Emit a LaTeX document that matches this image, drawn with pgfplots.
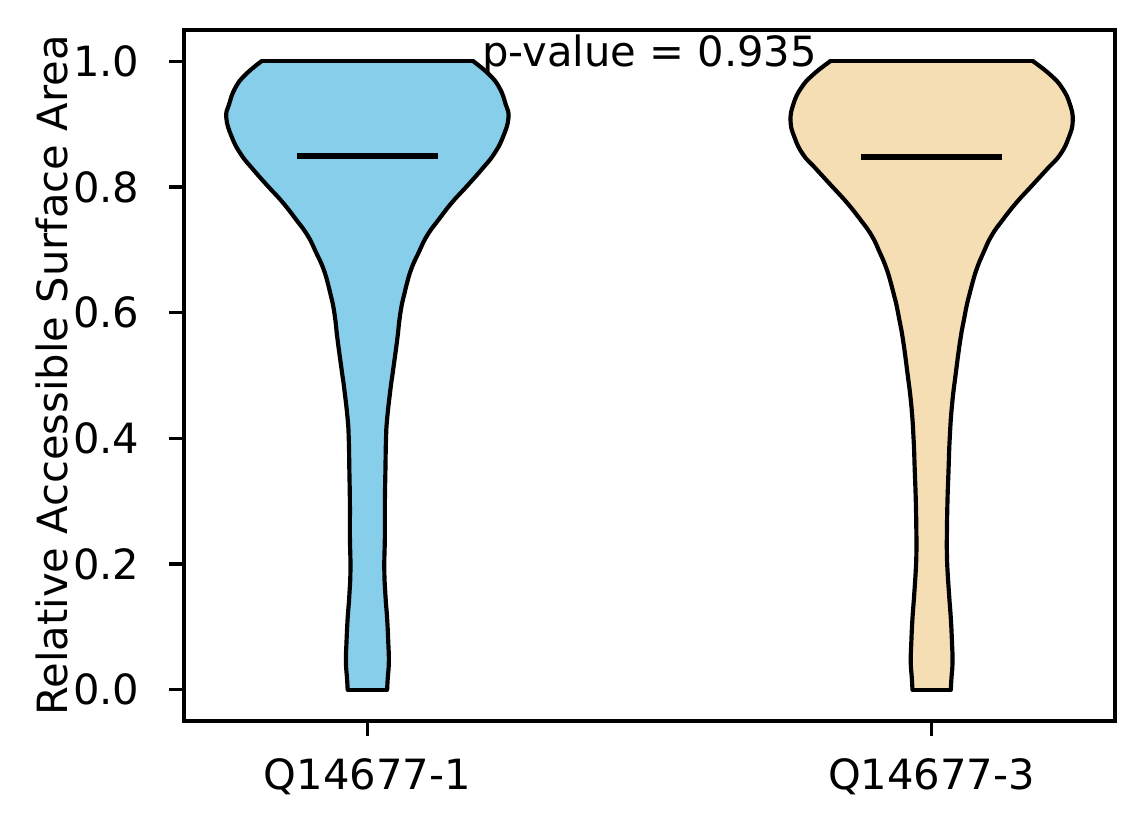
\documentclass[border=0pt]{standalone}
\usepackage{fontspec}
\setmainfont{DejaVu Sans}
\usepackage{pgfplots}
\pgfplotsset{compat=1.18}
\usepgfplotslibrary{fillbetween}
\usepackage{pgfplotstable}
\definecolor{vblue}{HTML}{87CEEB}
\definecolor{vwheat}{HTML}{F5DEB3}

% violin 1 (Q14677-1): y value, half width
\pgfplotstableread{
y w
0.000 0.035
0.017 0.036
0.044 0.038
0.076 0.037
0.113 0.035
0.150 0.032
0.192 0.030
0.245 0.031
0.298 0.031
0.351 0.032
0.399 0.033
0.431 0.035
0.479 0.041
0.505 0.045
0.558 0.053
0.590 0.057
0.617 0.062
0.643 0.069
0.670 0.078
0.696 0.091
0.723 0.106
0.749 0.127
0.776 0.1505
0.802 0.177
0.829 0.2035
0.852 0.224
0.879 0.240
0.910 0.250
0.932 0.245
0.958 0.234
0.979 0.216
1.000 0.188
}\vone

% violin 2 (Q14677-3)
\pgfplotstableread{
y w
0.000 0.034
0.017 0.035
0.044 0.037
0.076 0.036
0.113 0.034
0.150 0.031
0.192 0.028
0.219 0.027
0.245 0.027
0.298 0.028
0.351 0.030
0.399 0.032
0.452 0.036
0.505 0.043
0.558 0.051
0.590 0.0575
0.617 0.0635
0.643 0.071
0.670 0.080
0.696 0.092
0.723 0.1065
0.749 0.127
0.776 0.151
0.802 0.1775
0.829 0.205
0.852 0.228
0.879 0.243
0.905 0.250
0.932 0.245
0.958 0.231
0.979 0.210
1.000 0.180
}\vtwo

\begin{document}
\begin{tikzpicture}
\begin{axis}[
  at={(0pt,0pt)}, anchor=south west,
  scale only axis, width=223.44pt, height=165.84pt,
  xmin=0.675, xmax=2.325, ymin=-0.05, ymax=1.05,
  xtick={1,2}, xticklabels={Q14677-1,Q14677-3},
  ytick={0,0.2,0.4,0.6,0.8,1.0},
  y tick label style={/pgf/number format/.cd, fixed, fixed zerofill, precision=1, /tikz/.cd},
  /pgf/number format/assume math mode=true,
  tick align=outside, major tick length=3.5pt,
  xtick pos=left, ytick pos=left,
  tick style={black, line width=0.8pt},
  axis line style={line width=0.8pt},
  yticklabel style={anchor=east, inner sep=0pt, xshift=-7pt},
  xticklabel style={anchor=base, inner sep=0pt, yshift=-12.9pt},
  no markers,
  clip=false,
]
% violin 1
\addplot[draw=none, name path=R1, smooth, tension=0.8] table[x expr=1+\thisrow{w}, y=y]{\vone};
\addplot[draw=none, name path=L1, smooth, tension=0.8] table[x expr=1-\thisrow{w}, y=y]{\vone};
\addplot[vblue] fill between[of=R1 and L1, reverse=true];
\addplot[black, line width=1pt, smooth, tension=0.8] table[x expr=1+\thisrow{w}, y=y]{\vone};
\addplot[black, line width=1pt, smooth, tension=0.8] table[x expr=1-\thisrow{w}, y=y]{\vone};
\addplot[black, line width=1pt, line cap=round] coordinates {(0.812,1) (1.188,1)};
\addplot[black, line width=1pt, line cap=round] coordinates {(0.965,0) (1.035,0)};
% violin 2
\addplot[draw=none, name path=R2, smooth, tension=0.8] table[x expr=2+\thisrow{w}, y=y]{\vtwo};
\addplot[draw=none, name path=L2, smooth, tension=0.8] table[x expr=2-\thisrow{w}, y=y]{\vtwo};
\addplot[vwheat] fill between[of=R2 and L2, reverse=true];
\addplot[black, line width=1pt, smooth, tension=0.8] table[x expr=2+\thisrow{w}, y=y]{\vtwo};
\addplot[black, line width=1pt, smooth, tension=0.8] table[x expr=2-\thisrow{w}, y=y]{\vtwo};
\addplot[black, line width=1pt, line cap=round] coordinates {(1.820,1) (2.180,1)};
\addplot[black, line width=1pt, line cap=round] coordinates {(1.966,0) (2.034,0)};
% means
\addplot[black, line width=1.5pt] coordinates {(0.875,0.8495) (1.125,0.8495)};
\addplot[black, line width=1.5pt] coordinates {(1.875,0.848) (2.125,0.848)};
\node[anchor=base, inner sep=0pt] at (axis cs:1.5,0.9916) {p-value = 0.935};
\end{axis}
\node[rotate=90, anchor=base, inner sep=0pt] at (-28pt,82.92pt) {Relative Accessible Surface Area};
\path (-44.16pt,-24.72pt) rectangle (230.4pt,173.04pt);
\end{tikzpicture}
\end{document}
